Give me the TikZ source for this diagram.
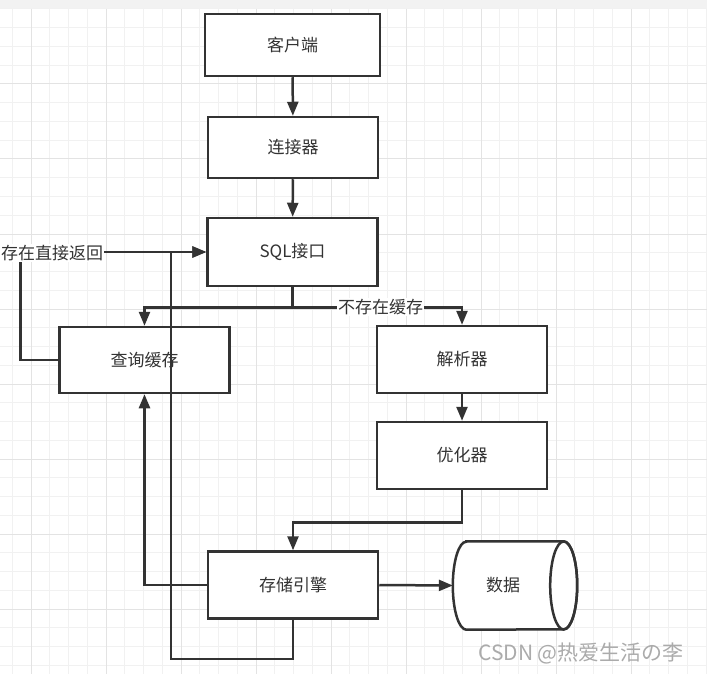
\documentclass[tikz,border=0pt]{standalone}
\usepackage{fontspec}
\setmainfont{Noto Sans CJK SC}
\usetikzlibrary{arrows.meta, calc}

\definecolor{ink}{HTML}{333333}
\definecolor{gridminor}{HTML}{F1F1F1}
\definecolor{gridmajor}{HTML}{E3E3E3}
\definecolor{band}{HTML}{F2F2F2}

\begin{document}
\begin{tikzpicture}[
  x=1pt, y=-1pt,
  % default box style; size may be overridden per node
  box/.style={
    rectangle, draw=ink, line width=2.5pt, fill=white,
    minimum width=170pt, minimum height=67pt,
    text=ink, font=\fontsize{17}{20}\selectfont
  },
  arr/.style={-{Triangle[length=14pt,width=11pt]}, ink, line width=2.5pt},
  lbl/.style={fill=white, inner sep=1pt, text=ink, font=\fontsize{17}{20}\selectfont},
]

\useasboundingbox (0,0) rectangle (707,674);

%% ── Background grid ───────────────────────────────────────────────────────
\fill[white] (0,0) rectangle (707,674);
\fill[band] (0,0) rectangle (707,9);
\foreach \i in {0,...,37} {
  \draw[gridminor, line width=1pt] ({12.25+18.75*\i},9) -- ({12.25+18.75*\i},674);
}
\foreach \i in {0,...,35} {
  \draw[gridminor, line width=1pt] (0,{9+18.75*\i}) -- (707,{9+18.75*\i});
}
\foreach \i in {0,...,8} {
  \draw[gridmajor, line width=1pt] ({31+75*\i},9) -- ({31+75*\i},674);
  \draw[gridmajor, line width=1pt] (0,{84+75*\i}) -- (707,{84+75*\i});
}

%% ── Column: request path ──────────────────────────────────────────────────
\node[box, minimum width=175pt, minimum height=62pt] (client) at (292.5,45) {客户端};
\node[box, minimum height=61pt] (conn)   at (293,147.5) {连接器};
\node[box, minimum height=68pt] (sql)    at (292.5,252) {SQL接口};

%% ── Row: cache / parser ───────────────────────────────────────────────────
\node[box, minimum height=66pt] (cache)  at (144.5,360) {查询缓存};
\node[box] (parser) at (462,359.5) {解析器};
\node[box] (optim)  at (462,455.5) {优化器};

%% ── Row: engine and storage ───────────────────────────────────────────────
\node[box] (engine) at (293,585) {存储引擎};
\node[minimum width=124pt, minimum height=88pt, inner sep=0pt] (data) at (515,585.5) {};
\draw[ink, line width=2.5pt, fill=white]
  ([xshift=13.5pt]data.north west) -- ([xshift=-13.5pt]data.north east)
  arc(90:-90:13.5pt and 44pt) -- ([xshift=13.5pt]data.south west)
  arc(270:90:13.5pt and 44pt) -- cycle;
\draw[ink, line width=2.5pt] ([xshift=-13.5pt]data.east) ellipse (13.5pt and 44pt);
\node[text=ink, font=\fontsize{17}{20}\selectfont] (datatxt) at ([xshift=-12pt]data.center) {数据};

%% ── Arrows ────────────────────────────────────────────────────────────────
\draw[arr] (client) -- (conn);
\draw[arr] (conn)   -- (sql);
\draw[arr] (sql.south) -- ++(0,20) -| (cache.north);
\draw[arr] (sql.south) -- ++(0,20) -| node[lbl, pos=0.26] {不存在缓存} (parser.north);
\draw[arr] (cache.west) -- ++(-38,0) |- (sql.west);
\draw[arr] (engine.south) -- ++(0,39) -- ++(-122,0) |- (sql.west);
\draw[arr] (parser) -- (optim);
\draw[arr] (optim.south) -- ++(0,32) -| (engine.north);
\draw[arr] (engine.west) -| (cache.south);
\draw[arr] (engine.east) -- (data.west);

%% label sits on the bend of the cache-hit return
\node[lbl, anchor=west] (hit) at (0,253) {存在直接返回};

%% watermark
\node[text=black!33, anchor=west, font=\fontsize{21}{24}\selectfont, inner sep=0pt] (mark) at (478,653) {CSDN @热爱生活の李};

\end{tikzpicture}
\end{document}
